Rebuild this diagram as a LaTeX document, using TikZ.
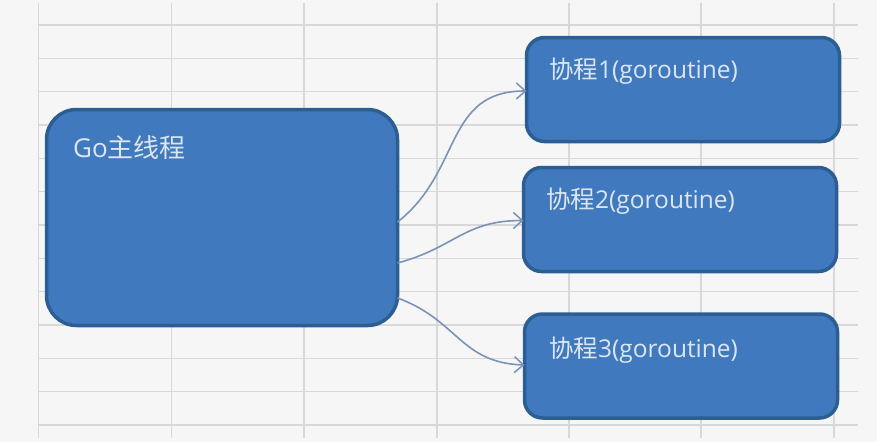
\documentclass[tikz,border=0pt]{standalone}
\usepackage{fontspec}
\setmainfont{Open Sans}
\newfontfamily\cjk{Noto Sans CJK SC}
\usetikzlibrary{arrows.meta}
\definecolor{bgc}{HTML}{F6F6F6}
\definecolor{gridc}{HTML}{D8D8D8}
\definecolor{boxfill}{HTML}{4079BD}
\definecolor{boxline}{HTML}{2C5E93}
\definecolor{txtc}{HTML}{DCE6F1}
\definecolor{arrc}{HTML}{7A93B6}
\tikzset{
  mainbox/.style={draw=boxline, fill=boxfill, line width=3.5pt, rounded corners=30pt,
    minimum width=351pt, minimum height=216pt, inner sep=0pt, outer sep=0pt},
  childbox/.style={draw=boxline, fill=boxfill, line width=3.5pt, rounded corners=18pt,
    minimum width=313pt, minimum height=104pt, inner sep=0pt, outer sep=0pt},
  boxtext/.style={text=txtc, anchor=west, inner sep=0pt},
  flow/.style={draw=arrc, line width=1.6pt, -{Straight Barb[length=9pt,width=16pt,line width=1.5pt]}},
  gridline/.style={draw=gridc, line width=1.3pt}
}
\begin{document}
\begin{tikzpicture}[x=1pt,y=-1pt]
\useasboundingbox (0,0) rectangle (877,442);
\fill[bgc] (0,0) rectangle (877,442);
% spreadsheet grid
\foreach \gx in {38.5,171.5,304,437,569,701,834}
  \draw[gridline] (\gx,3) -- (\gx,438);
\foreach \k in {0,...,12}
  \draw[gridline] (38.5,25+33.33*\k) -- (858,25+33.33*\k);
% boxes
\node[mainbox] (main) at (222,217.5) {};
\node[childbox] (b1) at (683,89.5) {};
\node[childbox] (b2) at (680,219.5) {};
\node[childbox] (b3) at (681,366) {};
% texts
\node[boxtext, font=\fontsize{26}{31}\selectfont] (tm) at (73,148) {Go{\cjk 主线程}};
\node[boxtext, font=\fontsize{24.5}{29}\selectfont] (t1) at (549,71) {{\cjk 协程}1(goroutine)};
\node[boxtext, font=\fontsize{24.5}{29}\selectfont] (t2) at (546,201) {{\cjk 协程}2(goroutine)};
\node[boxtext, font=\fontsize{24.5}{29}\selectfont] (t3) at (549,350) {{\cjk 协程}3(goroutine)};
% connectors
\draw[flow] ([yshift=-4.5pt]main.east) to[out=38,in=180,looseness=1.15] ([yshift=-1.5pt]b1.west);
\draw[flow] ([yshift=-45.5pt]main.east) to[out=15,in=180,looseness=1.15] ([yshift=-1pt]b2.west);
\draw[flow] ([yshift=-80.5pt]main.east) to[out=-20,in=178,looseness=1.15] ([yshift=1pt]b3.west);
\end{tikzpicture}
\end{document}
